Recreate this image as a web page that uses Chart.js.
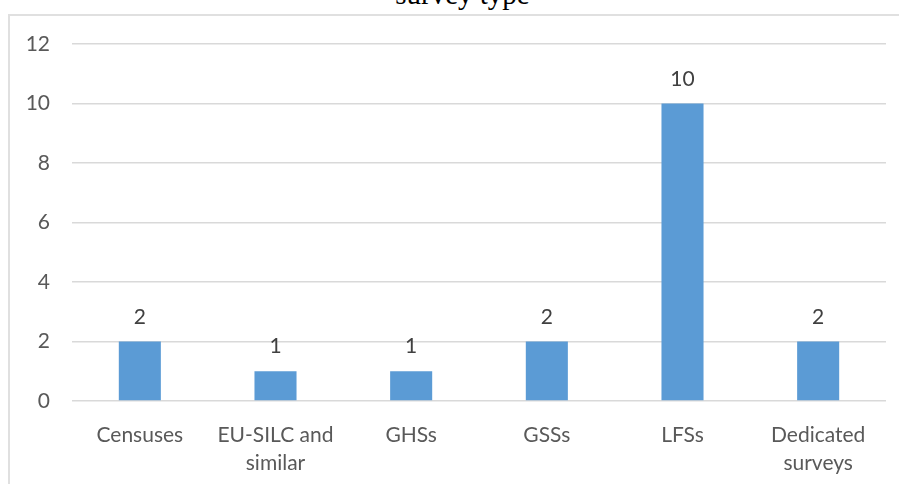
<!DOCTYPE html>
<html>
<head>
<meta charset="utf-8">
<script src="https://cdn.jsdelivr.net/npm/chart.js@4.4.0/dist/chart.umd.min.js"></script>
<style>
  html, body { margin: 0; padding: 0; background: #ffffff; }
  #wrap { position: relative; width: 899px; height: 484px; overflow: hidden; background: #fff; }
  #frame { position: absolute; left: 8px; top: 14px; width: 1000px; height: 600px; border: 2px solid #e0e0e0; box-sizing: border-box; }
  #title { position: absolute; left: 0; top: -20px; width: 925px; text-align: center; font-family: "Liberation Serif", "Times New Roman", serif; font-size: 29px; line-height: 29px; color: #000; white-space: nowrap; }
  #chart { position: absolute; left: 0; top: 0; }
</style>
</head>
<body>
<div id="wrap">
  <div id="frame"></div>
  <div id="title">survey type</div>
  <canvas id="chart" width="899" height="484"></canvas>
</div>
<script>
const categories = [["Censuses"], ["EU-SILC and", "similar"], ["GHSs"], ["GSSs"], ["LFSs"], ["Dedicated", "surveys"]];
const counts = [2, 1, 1, 2, 10, 2];
const yTicks = [0, 2, 4, 6, 8, 10, 12];

const FONT = "Lato, 'Open Sans', sans-serif";

const valueLabels = {
  id: 'valueLabels',
  afterDatasetsDraw(chart) {
    const ctx = chart.ctx;
    const meta = chart.getDatasetMeta(0);
    ctx.save();
    ctx.font = "21px " + FONT;
    ctx.fillStyle = "#404040";
    ctx.textAlign = "center";
    ctx.textBaseline = "alphabetic";
    meta.data.forEach((bar, i) => {
      ctx.fillText(String(counts[i]), bar.x, bar.y - 18);
    });
    ctx.restore();
  }
};

new Chart(document.getElementById('chart'), {
  type: 'bar',
  data: {
    labels: categories,
    datasets: [{
      data: counts,
      backgroundColor: '#5B9BD5',
      borderWidth: 0,
      categoryPercentage: 1.0,
      barPercentage: 0.31
    }]
  },
  options: {
    responsive: false,
    animation: false,
    devicePixelRatio: 1,
    layout: { padding: { top: 44, right: 13, bottom: 0, left: 0 } },
    plugins: {
      legend: { display: false },
      title: { display: false },
      tooltip: { enabled: false }
    },
    scales: {
      x: {
        grid: { display: false, drawTicks: false },
        border: { display: false },
        ticks: {
          color: '#595959',
          font: { family: FONT, size: 21, lineHeight: 1.33 },
          padding: 20,
          maxRotation: 0,
          autoSkip: false
        },
        afterFit(scale) { scale.height = 83; }
      },
      y: {
        min: 0,
        max: 12,
        afterBuildTicks(scale) { scale.ticks = yTicks.map(v => ({ value: v })); },
        grid: { color: '#d9d9d9', lineWidth: 1.5, drawTicks: false },
        border: { display: false },
        ticks: {
          color: '#595959',
          font: { family: FONT, size: 21 },
          padding: 22
        },
        afterFit(scale) { scale.width = 72; }
      }
    }
  },
  plugins: [valueLabels]
});
</script>
</body>
</html>
